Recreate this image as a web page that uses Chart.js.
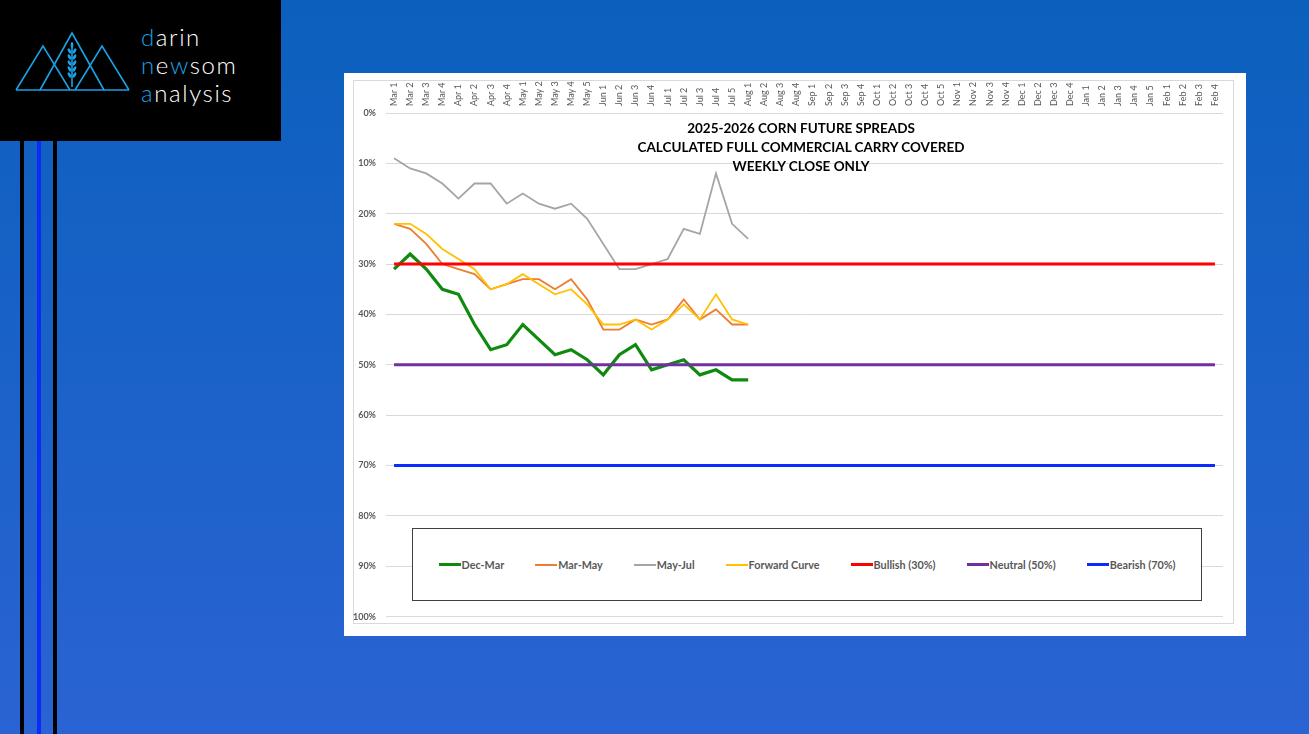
<!DOCTYPE html>
<html>
<head>
<meta charset="utf-8">
<title>2025-2026 Corn Future Spreads</title>
<script src="https://cdn.jsdelivr.net/npm/chart.js@4.4.1/dist/chart.umd.min.js"></script>
<style>
  html, body { margin: 0; padding: 0; }
  body {
    width: 1309px; height: 734px; overflow: hidden; position: relative;
    background: linear-gradient(to bottom, #0b60bd 0%, #2a63d3 100%);
    font-family: Lato, "Open Sans", sans-serif;
  }
  .logo { position: absolute; left: 0; top: 0; width: 281px; height: 141px; background: #000; }
  .logo svg { position: absolute; left: 0; top: 0; }
  .logo .word { position: absolute; left: 141px; color: #fff; font-size: 24px; font-weight: 300; letter-spacing: 1.6px; line-height: 28px; }
  .logo .word b { color: #1ba1e6; font-weight: 300; }
  .bar { position: absolute; top: 141px; bottom: 0; width: 3.5px; }
  .panel { position: absolute; left: 344px; top: 73px; width: 902px; height: 563px; background: #fff; }
  .frame { position: absolute; left: 353px; top: 80px; width: 881px; height: 544px; border: 1px solid #d9d9d9; box-sizing: border-box; }
  .chartbox { position: absolute; left: 353px; top: 80px; width: 881px; height: 552px; }
  .title { position: absolute; left: 581px; top: 119px; width: 440px; text-align: center; font-weight: 700; font-size: 13.5px; line-height: 19px; color: #000; }
  .legend { position: absolute; left: 412px; top: 528px; width: 790px; height: 73px; box-sizing: border-box; border: 1.5px solid #404040; background: #fff;
            display: flex; align-items: center; justify-content: center; gap: 31px; }
  .legend .item { display: flex; align-items: center; font-size: 10.8px; font-weight: 700; color: #595959; }
  .legend .swatch { display: inline-block; width: 22px; margin-right: 1px; }
</style>
</head>
<body>
<div class="logo">
  <svg width="140" height="141" viewBox="0 0 140 141">
    <g fill="none" stroke="#1ba1e6" stroke-width="1.6" stroke-linejoin="miter">
      <polyline points="16,90 43,46 70,90"/>
      <polyline points="40,90 72,33 104,90"/>
      <polyline points="75,90 102,46 129,90"/>
      <line x1="16" y1="90" x2="129" y2="90"/>
      <line x1="72" y1="44" x2="72" y2="87"/>
    </g>
    <g fill="#1ba1e6">
      <ellipse cx="72" cy="45" rx="1.4" ry="3"/>
      <ellipse cx="69.5" cy="51" rx="1.4" ry="3" transform="rotate(-30 69.5 51)"/>
      <ellipse cx="74.5" cy="51" rx="1.4" ry="3" transform="rotate(30 74.5 51)"/>
      <ellipse cx="69.5" cy="57" rx="1.4" ry="3" transform="rotate(-30 69.5 57)"/>
      <ellipse cx="74.5" cy="57" rx="1.4" ry="3" transform="rotate(30 74.5 57)"/>
      <ellipse cx="69.5" cy="63" rx="1.4" ry="3" transform="rotate(-30 69.5 63)"/>
      <ellipse cx="74.5" cy="63" rx="1.4" ry="3" transform="rotate(30 74.5 63)"/>
      <ellipse cx="69.5" cy="69" rx="1.4" ry="3" transform="rotate(-30 69.5 69)"/>
      <ellipse cx="74.5" cy="69" rx="1.4" ry="3" transform="rotate(30 74.5 69)"/>
      <ellipse cx="69.5" cy="75" rx="1.4" ry="3" transform="rotate(-30 69.5 75)"/>
      <ellipse cx="74.5" cy="75" rx="1.4" ry="3" transform="rotate(30 74.5 75)"/>
    </g>
  </svg>
  <div class="word" style="top:23px"><b>d</b>arin</div>
  <div class="word" style="top:51px"><b>n</b>e<b>w</b>som</div>
  <div class="word" style="top:79px"><b>a</b>nalysis</div>
</div>

<div class="bar" style="left:20px; background:#000;"></div>
<div class="bar" style="left:37px; background:#0a2cf5;"></div>
<div class="bar" style="left:53px; background:#000;"></div>

<div class="panel"></div>
<div class="frame"></div>
<div class="chartbox"><canvas id="spreadChart"></canvas></div>

<div class="title">
  2025-2026 CORN FUTURE SPREADS<br>
  CALCULATED FULL COMMERCIAL CARRY COVERED<br>
  WEEKLY CLOSE ONLY
</div>

<div class="legend" id="legend"></div>

<script>
const weekLabels = [
  'Mar 1', 'Mar 2', 'Mar 3', 'Mar 4',
  'Apr 1', 'Apr 2', 'Apr 3', 'Apr 4',
  'May 1', 'May 2', 'May 3', 'May 4', 'May 5',
  'Jun 1', 'Jun 2', 'Jun 3', 'Jun 4',
  'Jul 1', 'Jul 2', 'Jul 3', 'Jul 4', 'Jul 5',
  'Aug 1', 'Aug 2', 'Aug 3', 'Aug 4',
  'Sep 1', 'Sep 2', 'Sep 3', 'Sep 4',
  'Oct 1', 'Oct 2', 'Oct 3', 'Oct 4', 'Oct 5',
  'Nov 1', 'Nov 2', 'Nov 3', 'Nov 4',
  'Dec 1', 'Dec 2', 'Dec 3', 'Dec 4',
  'Jan 1', 'Jan 2', 'Jan 3', 'Jan 4', 'Jan 5',
  'Feb 1', 'Feb 2', 'Feb 3', 'Feb 4'
];

// weekly close, % of full commercial carry covered (Mar 1 .. Aug 1)
const decMar = [31, 28, 31, 35, 36, 42, 47, 46, 42, 45, 48, 47, 49, 52, 48, 46, 51, 50, 49, 52, 51, 53, 53];
const marMay = [22, 23, 26, 30, 31, 32, 35, 34, 33, 33, 35, 33, 37, 43, 43, 41, 42, 41, 37, 41, 39, 42, 42];
const mayJul = [9, 11, 12, 14, 17, 14, 14, 18, 16, 18, 19, 18, 21, 26, 31, 31, 30, 29, 23, 24, 12, 22, 25];
const forwardCurve = [22, 22, 24, 27, 29, 31, 35, 34, 32, 34, 36, 35, 38, 42, 42, 41, 43, 41, 38, 41, 36, 41, 42];

const levelNames = ['Bullish (30%)', 'Neutral (50%)', 'Bearish (70%)'];
const levelValues = [30, 50, 70];

const yTicks = [0, 10, 20, 30, 40, 50, 60, 70, 80, 90, 100];

const seriesNames = ['Dec-Mar', 'Mar-May', 'May-Jul', 'Forward Curve'];
const seriesValues = [decMar, marMay, mayJul, forwardCurve];
const seriesColors = ['#0f8a0f', '#ed7d31', '#a5a5a5', '#ffc000'];
const seriesWidths = [3.2, 1.8, 1.8, 1.8];
const levelColors = ['#ff0000', '#7030a0', '#0a2cff'];

const datasets = [];
seriesNames.forEach((name, i) => {
    datasets.push({
        label: name,
        data: seriesValues[i],
        borderColor: seriesColors[i],
        borderWidth: seriesWidths[i]
    });
});
levelNames.forEach((name, i) => {
    datasets.push({
        label: name,
        data: weekLabels.map(() => levelValues[i]),
        borderColor: levelColors[i],
        borderWidth: 3
    });
});
// later series sit on top, like the spreadsheet original
datasets.forEach((ds, i) => {
    ds.order = datasets.length - i;
    ds.pointRadius = 0;
    ds.pointHoverRadius = 0;
    ds.tension = 0;
    ds.fill = false;
    ds.borderCapStyle = 'butt';
});

const ctx = document.getElementById('spreadChart').getContext('2d');

const spreadChart = new Chart(ctx, {
    type: 'line',
    data: {
        labels: weekLabels,
        datasets: datasets
    },
    options: {
        responsive: true,
        maintainAspectRatio: false,
        animation: false,
        layout: {
            padding: { left: 0, top: 0, right: 11, bottom: 0 }
        },
        plugins: {
            legend: { display: false },
            tooltip: { enabled: false }
        },
        scales: {
            x: {
                position: 'top',
                offset: true,
                grid: { display: false, drawTicks: false },
                border: { display: false },
                ticks: {
                    autoSkip: false,
                    minRotation: 90,
                    maxRotation: 90,
                    padding: 7,
                    // rotated labels on a top axis come out one line-height to the left
                    labelOffset: 10.8,
                    color: '#595959',
                    font: { family: 'Lato', size: 9, lineHeight: 1.2 }
                },
                afterFit: function(scale) { scale.height = 33; }
            },
            y: {
                reverse: true,
                min: 0,
                max: 100,
                afterBuildTicks: function(scale) {
                    scale.ticks = yTicks.map(v => ({ value: v }));
                },
                grid: { color: '#d9d9d9', lineWidth: 1, drawTicks: false },
                border: { display: false },
                ticks: {
                    padding: 10,
                    color: '#595959',
                    font: { family: 'Lato', size: 9, weight: 'bold' },
                    callback: function(value) { return value + '%'; }
                },
                afterFit: function(scale) { scale.width = 33; }
            }
        }
    }
});

// legend in the boxed style of the original
const legendBox = document.getElementById('legend');
spreadChart.data.datasets.forEach(ds => {
    const item = document.createElement('div');
    item.className = 'item';
    const swatch = document.createElement('span');
    swatch.className = 'swatch';
    swatch.style.height = Math.round(ds.borderWidth) + 'px';
    swatch.style.background = ds.borderColor;
    const label = document.createElement('span');
    label.textContent = ds.label;
    item.appendChild(swatch);
    item.appendChild(label);
    legendBox.appendChild(item);
});
</script>
</body>
</html>
